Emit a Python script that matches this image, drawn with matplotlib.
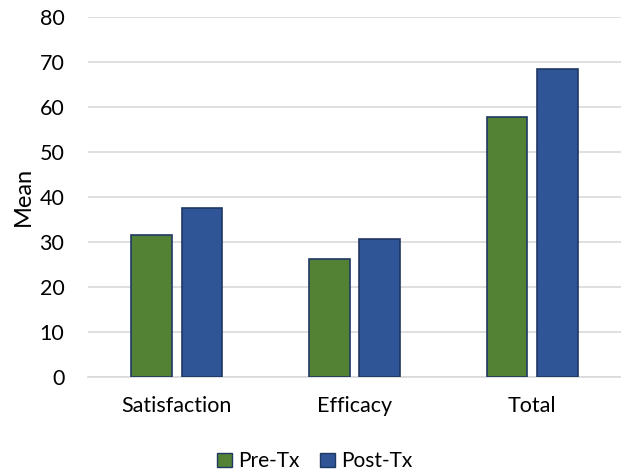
import numpy as np
import matplotlib.pyplot as plt
from matplotlib.patches import Patch

categories = ["Satisfaction", "Efficacy", "Total"]
pre_tx = [31.5, 26.2, 57.8]
post_tx = [37.4, 30.7, 68.3]
series_names = ["Pre-Tx", "Post-Tx"]

green = "#548235"
blue = "#2F5597"
edge = "#1F3864"

plt.rcParams['font.family'] = ['Lato', 'DejaVu Sans']

fig = plt.figure(figsize=(6.21, 4.74), dpi=100)
ax = fig.add_axes([0.1417, 0.2053, 0.8583, 0.7595])

x = np.arange(len(categories))
w = 0.228
off = 0.142
ax.bar(x - off, pre_tx, w, color=green, edgecolor=edge, linewidth=1.2, zorder=3)
ax.bar(x + off, post_tx, w, color=blue, edgecolor=edge, linewidth=1.2, zorder=3)

ax.set_xlim(-0.5, 2.5)
ax.set_ylim(0, 80)
ax.set_yticks(range(0, 81, 10))
ax.set_xticks(x)
ax.set_xticklabels(categories)
ax.tick_params(axis='both', length=0, labelsize=15.5, colors='#000000')
ax.tick_params(axis='x', pad=14)
ax.tick_params(axis='y', pad=17)
ax.grid(axis='y', color='#D9D9D9', linewidth=1.2, zorder=0)
for s in ['top', 'right', 'left']:
    ax.spines[s].set_visible(False)
ax.spines['bottom'].set_color('#D9D9D9')
ax.spines['bottom'].set_linewidth(1.2)
ax.set_ylabel("Mean", fontsize=17, labelpad=4)

handles = [Patch(facecolor=green, edgecolor=edge), Patch(facecolor=blue, edgecolor=edge)]
fig.legend(handles, series_names, loc='center', bbox_to_anchor=(0.507, 0.027), ncol=2,
           frameon=False, fontsize=15, handlelength=0.7, handleheight=0.7,
           handletextpad=0.3, columnspacing=1.0)

fig.savefig("out.png", dpi=100)
